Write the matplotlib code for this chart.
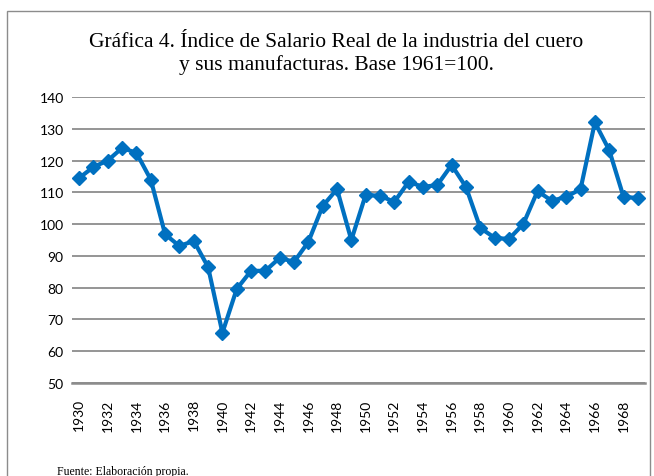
import matplotlib
matplotlib.use("Agg")
import matplotlib.pyplot as plt
from matplotlib.patches import Rectangle

years = list(range(1930, 1970))
values = [114.5, 118, 120, 124, 122.4, 114, 96.8, 93.1, 94.7, 86.5,
          65.8, 79.6, 85.3, 85.3, 89.4, 88.1, 94.4, 105.7, 111, 95,
          109.2, 108.9, 107, 113.3, 111.7, 112.3, 118.6, 111.7, 98.8, 95.7,
          95.3, 100, 110.4, 107.3, 108.6, 111, 132, 123.3, 108.6, 108.2]
title = "Gráfica 4. Índice de Salario Real de la industria del cuero\ny sus manufacturas. Base 1961=100."
source = "Fuente: Elaboración propia."
yticks = list(range(50, 141, 10))

fig = plt.figure(figsize=(6.54, 4.77), dpi=100)
fig.patch.set_facecolor("white")
fig.patches.append(Rectangle((7/654, -0.1), (650-7)/654, 1.1 - 12/477,
                             transform=fig.transFigure, fill=False,
                             edgecolor="#8c8c8c", linewidth=1.0))

ax = fig.add_axes([72/654, 1-384/477, (645-72)/654, (384-98)/477])
x = list(range(len(years)))
ax.plot(x, values, color="#0070C0", linewidth=3, marker="D", markersize=7,
        markeredgecolor="#0070C0", markerfacecolor="#0070C0", zorder=3)
ax.set_xlim(-0.5, len(years) - 0.5)
ax.set_ylim(50, 140)
ax.set_yticks(yticks)
ax.set_yticklabels([str(t) for t in yticks], fontfamily="Lato", fontsize=10)
ax.set_xticks(x[::2])
ax.set_xticklabels([str(y) for y in years[::2]], rotation=90,
                   fontfamily="Lato", fontsize=10)
ax.tick_params(axis="both", length=0, pad=6)
ax.tick_params(axis="x", pad=11)
ax.grid(axis="y", color="#8c8c8c", linewidth=1.3)
ax.set_axisbelow(True)
for s in ["top", "right", "left"]:
    ax.spines[s].set_visible(False)
ax.spines["bottom"].set_color("#8c8c8c")
ax.spines["bottom"].set_linewidth(1.8)

fig.text(336/654, 1-54/477, title, ha="center", va="center",
         fontfamily="Liberation Serif", fontsize=15.5, linespacing=1.2)
fig.text(57/654, 1-472/477, source, ha="left", va="center",
         fontfamily="Liberation Serif", fontsize=8.5)

fig.savefig("out.png", dpi=100)
